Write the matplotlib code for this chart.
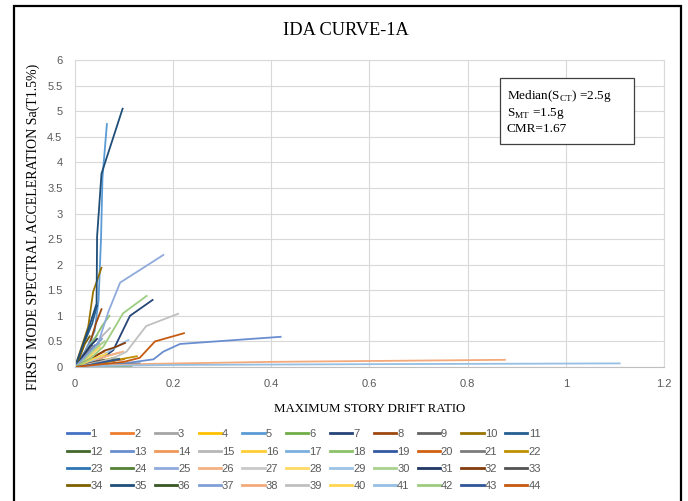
import matplotlib
matplotlib.use("Agg")
import matplotlib.pyplot as plt
from matplotlib.patches import Rectangle

# drift ratio (x) and Sa (y) per record
drift = [
    [0, 0.01, 0.02, 0.03, 0.045],                 # 1
    [0, 0.012, 0.025, 0.04, 0.06],                # 2
    [0, 0.015, 0.03, 0.05],                       # 3
    [0, 0.02, 0.04, 0.06, 0.08],                  # 4
    [0, 0.02, 0.04, 0.048, 0.053, 0.056, 0.065],  # 5
    [0, 0.03, 0.07, 0.115],                       # 6
    [0, 0.03, 0.06, 0.078, 0.112, 0.158],         # 7
    [0, 0.015, 0.03, 0.043, 0.054],               # 8
    [0, 0.01, 0.025, 0.04],                       # 9
    [0, 0.012, 0.027, 0.037, 0.054],              # 10
    [0, 0.01, 0.02, 0.035, 0.045],                # 11
    [0, 0.02, 0.05, 0.08],                        # 12
    [0, 0.05, 0.1, 0.16, 0.18, 0.214, 0.419],     # 13
    [0, 0.03, 0.06, 0.09],                        # 14
    [0, 0.02, 0.04, 0.055, 0.071],                # 15
    [0, 0.02, 0.04, 0.05],                        # 16
    [0, 0.015, 0.03, 0.045],                      # 17
    [0, 0.02, 0.04, 0.055, 0.07],                 # 18
    [0, 0.015, 0.03, 0.04],                       # 19
    [0, 0.03, 0.06, 0.1],                         # 20
    [0, 0.01, 0.025, 0.035],                      # 21
    [0, 0.04, 0.08, 0.126],                       # 22
    [0, 0.04, 0.09, 0.132],                       # 23
    [0, 0.02, 0.05, 0.09],                        # 24
    [0, 0.02, 0.04, 0.05, 0.068, 0.092, 0.18],    # 25
    [0, 0.03, 0.06, 0.098],                       # 26
    [0, 0.02, 0.04, 0.06],                        # 27
    [0, 0.02, 0.035, 0.05],                       # 28
    [0, 0.03, 0.06, 0.085, 0.109],                # 29
    [0, 0.02, 0.04, 0.06],                        # 30
    [0, 0.015, 0.03, 0.045],                      # 31
    [0, 0.02, 0.04, 0.06, 0.08, 0.102],           # 32
    [0, 0.02, 0.04, 0.06],                        # 33
    [0, 0.01, 0.02, 0.03],                        # 34
    [0, 0.015, 0.03, 0.044, 0.045, 0.054, 0.097], # 35
    [0, 0.03, 0.06, 0.08],                        # 36
    [0, 0.02, 0.04, 0.055],                       # 37
    [0, 0.05, 0.15, 0.4, 0.876],                  # 38
    [0, 0.05, 0.08, 0.105, 0.145, 0.21],          # 39
    [0, 0.02, 0.04, 0.065],                       # 40
    [0, 0.05, 0.2, 0.6, 1.11],                    # 41
    [0, 0.03, 0.058, 0.098, 0.146],               # 42
    [0, 0.03, 0.06, 0.09],                        # 43
    [0, 0.05, 0.1, 0.132, 0.163, 0.222],          # 44
]
sa = [
    [0, 0.1, 0.2, 0.3, 0.45],
    [0, 0.08, 0.15, 0.22, 0.3],
    [0, 0.15, 0.3, 0.45],
    [0, 0.05, 0.1, 0.14, 0.18],
    [0, 0.3, 0.7, 1.3, 2.5, 3.7, 4.75],
    [0, 0.005, 0.01, 0.02],
    [0, 0.08, 0.2, 0.33, 1.0, 1.31],
    [0, 0.2, 0.45, 0.86, 1.13],
    [0, 0.1, 0.25, 0.38],
    [0, 0.35, 0.79, 1.47, 1.94],
    [0, 0.25, 0.5, 0.85, 1.2],
    [0, 0.04, 0.08, 0.12],
    [0, 0.03, 0.07, 0.15, 0.3, 0.45, 0.59],
    [0, 0.1, 0.2, 0.28],
    [0, 0.15, 0.35, 0.6, 0.76],
    [0, 0.15, 0.3, 0.38],
    [0, 0.2, 0.45, 0.62],
    [0, 0.25, 0.55, 0.8, 1.0],
    [0, 0.15, 0.3, 0.42],
    [0, 0.05, 0.1, 0.15],
    [0, 0.12, 0.3, 0.42],
    [0, 0.06, 0.13, 0.21],
    [0, 0.02, 0.05, 0.07],
    [0, 0.05, 0.1, 0.16],
    [0, 0.1, 0.3, 0.55, 1.08, 1.65, 2.19],
    [0, 0.1, 0.2, 0.3],
    [0, 0.2, 0.35, 0.5],
    [0, 0.1, 0.25, 0.4],
    [0, 0.1, 0.25, 0.4, 0.53],
    [0, 0.15, 0.35, 0.5],
    [0, 0.2, 0.4, 0.55],
    [0, 0.1, 0.2, 0.32, 0.38, 0.47],
    [0, 0.05, 0.1, 0.14],
    [0, 0.2, 0.45, 0.6],
    [0, 0.4, 0.82, 1.24, 2.55, 3.78, 5.05],
    [0, 0.05, 0.12, 0.18],
    [0, 0.2, 0.4, 0.55],
    [0, 0.03, 0.06, 0.1, 0.14],
    [0, 0.1, 0.18, 0.3, 0.8, 1.04],
    [0, 0.08, 0.17, 0.26],
    [0, 0.02, 0.04, 0.055, 0.07],
    [0, 0.15, 0.4, 1.05, 1.39],
    [0, 0.04, 0.1, 0.15],
    [0, 0.05, 0.1, 0.18, 0.5, 0.66],
]
colors = [
    "#4472C4", "#ED7D31", "#A5A5A5", "#FFC000", "#5B9BD5", "#70AD47",
    "#264478", "#9E480E", "#636363", "#997300", "#255E91", "#43682B",
    "#698ED0", "#F1975A", "#B7B7B7", "#FFCD33", "#7CAFDD", "#8CC168",
    "#335AA1", "#D26012", "#7C7C7C", "#BF9000", "#2E75B6", "#548235",
    "#8FAADC", "#F4B183", "#C9C9C9", "#FFD966", "#9DC3E6", "#A9D18E",
    "#203864", "#843C0C", "#525252", "#7F6000", "#1F4E79", "#385723",
    "#7F9FD5", "#F3A97A", "#C0C0C0", "#FFD54F", "#95BFE3", "#9DCC7F",
    "#2F5597", "#C55A11",
]
labels = [str(i + 1) for i in range(len(drift))]

fig = plt.figure(figsize=(6.88, 5.01), dpi=100)
ax = fig.add_axes([0.109, 0.2675, 0.856, 0.6125])

lines = []
for x, y, c, lab in zip(drift, sa, colors, labels):
    ln, = ax.plot(x, y, color=c, lw=1.3, label=lab)
    lines.append(ln)

ax.set_xlim(0, 1.2)
ax.set_ylim(0, 6)
ax.set_xticks([0, 0.2, 0.4, 0.6, 0.8, 1, 1.2])
ax.set_xticklabels(["0", "0.2", "0.4", "0.6", "0.8", "1", "1.2"])
ax.set_yticks([i * 0.5 for i in range(13)])
ax.set_yticklabels(["0", "0.5", "1", "1.5", "2", "2.5", "3", "3.5", "4", "4.5", "5", "5.5", "6"])
ax.grid(True, color="#D9D9D9", lw=0.8)
ax.set_axisbelow(True)
for s in ax.spines.values():
    s.set_color("#D9D9D9")
    s.set_linewidth(0.8)
ax.spines["bottom"].set_color("#BFBFBF")
ax.tick_params(length=0, labelsize=8, labelcolor="#595959")
ax.tick_params(axis="y", pad=9)
ax.tick_params(axis="x", pad=9)
for t in ax.get_xticklabels() + ax.get_yticklabels():
    t.set_family("Liberation Sans")

serif = "Liberation Serif"
fig.text(0.502, 0.94, "IDA CURVE-1A", ha="center", va="center",
         family=serif, fontsize=13.2)
ax.set_xlabel("MAXIMUM STORY DRIFT RATIO", family=serif, fontsize=9.3, labelpad=10)
fig.text(0.048, 0.547, "FIRST MODE SPECTRAL ACCELERATION Sa(T1.5%)", rotation=90,
         ha="center", va="center", family=serif, fontsize=10)

# annotation box
ax.add_patch(Rectangle((0.721, 0.727), 0.2275, 0.215, transform=ax.transAxes,
                       fc="white", ec="#404040", lw=0.9, zorder=5))
ax.text(0.733, 0.833,
        "Median(S$_{\\mathregular{CT}}$) =2.5g\nS$_{\\mathregular{MT}}$ =1.5g\nCMR=1.67",
        transform=ax.transAxes, ha="left", va="center", family=serif, fontsize=9.5,
        linespacing=1.22, zorder=6)

# legend row-wise: 11 columns x 4 rows
order = [c + 11 * r for c in range(11) for r in range(4)]
leg = fig.legend([lines[i] for i in order], [labels[i] for i in order],
                 ncol=11, loc="upper left", bbox_to_anchor=(0.091, 0.152),
                 frameon=False, fontsize=8, handlelength=2.0, handletextpad=0.1,
                 columnspacing=0.72, labelspacing=0.66, borderaxespad=0)
for t in leg.get_texts():
    t.set_color("#595959")
    t.set_family("Liberation Sans")
for h in leg.legend_handles:
    h.set_linewidth(2)

fig.patches.append(Rectangle((0.0203, -0.05), 0.97, 1.038, transform=fig.transFigure,
                             fill=False, ec="black", lw=1.6))

fig.savefig("out.png", dpi=100)
